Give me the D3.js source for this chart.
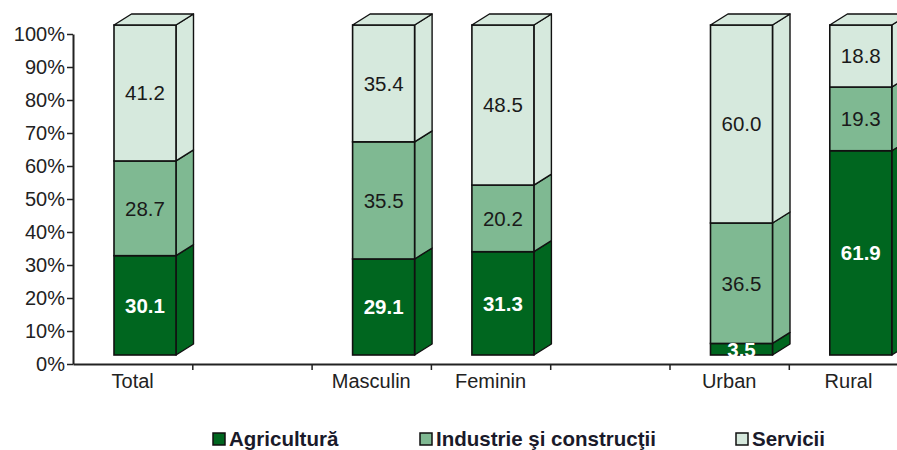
<!DOCTYPE html>
<html>
<head>
<meta charset="utf-8">
<script src="https://cdn.jsdelivr.net/npm/d3@7"></script>
<style>
  html, body { margin: 0; padding: 0; background: #fff; }
  svg { display: block; font-family: "Liberation Sans", Arial, sans-serif; }
</style>
</head>
<body>
<svg id="chart" width="897" height="450"></svg>
<script>
// ---- data ----
const categories = ["Total", "", "Masculin", "Feminin", "", "Urban", "Rural"];
const seriesNames = ["Agricultură", "Industrie şi construcţii", "Servicii"];
const agricultura = [30.1, null, 29.1, 31.3, null, 3.5, 61.9];
const industrie   = [28.7, null, 35.5, 20.2, null, 36.5, 19.3];
const servicii    = [41.2, null, 35.4, 48.5, null, 60.0, 18.8];
const yTicks = [0, 10, 20, 30, 40, 50, 60, 70, 80, 90, 100];

const colors = ["#00661f", "#7fb992", "#d6e9dd"];
const labelColors = ["#ffffff", "#1a1a1a", "#1a1a1a"];

// ---- layout ----
const svg = d3.select("#chart");
const x0 = 73, step = 119.3;
const x = d3.scaleBand().domain(d3.range(categories.length))
  .range([x0, x0 + step * categories.length]).padding(0);
const y = d3.scaleLinear().domain([0, 100]).range([364, 34]);
const barOffsetX = 41, barW = 62, lift = 9;
const dx = 17.5, dy = -11;

// ---- bars ----
const series = [agricultura, industrie, servicii];
const gBars = svg.append("g");
categories.forEach((c, i) => {
  if (agricultura[i] == null) return;
  const bx = x(i) + barOffsetX;
  let cum = 0;
  series.forEach((s, k) => {
    const v = s[i];
    const yb = y(cum) - lift, yt = y(cum + v) - lift;
    cum += v;
    const g = gBars.append("g");
    g.append("polygon")
      .attr("points", [[bx + barW, yb], [bx + barW + dx, yb + dy], [bx + barW + dx, yt + dy], [bx + barW, yt]].join(" "))
      .attr("fill", colors[k]).attr("stroke", "#111").attr("stroke-width", 1.4).attr("stroke-linejoin", "round");
    g.append("rect").attr("x", bx).attr("y", yt).attr("width", barW).attr("height", yb - yt)
      .attr("fill", colors[k]).attr("stroke", "#111").attr("stroke-width", 1.6);
    if (k === series.length - 1) {
      g.append("polygon")
        .attr("points", [[bx, yt], [bx + dx, yt + dy], [bx + barW + dx, yt + dy], [bx + barW, yt]].join(" "))
        .attr("fill", colors[k]).attr("stroke", "#111").attr("stroke-width", 1.4).attr("stroke-linejoin", "round");
    }
  });
  cum = 0;
  series.forEach((s, k) => {
    const v = s[i];
    const ym = (y(cum) + y(cum + v)) / 2 - lift;
    cum += v;
    gBars.append("text").attr("x", bx + barW / 2).attr("y", ym).attr("dy", "0.36em")
      .attr("text-anchor", "middle").attr("font-size", 20.5).attr("fill", labelColors[k])
      .attr("font-weight", k === 0 ? "bold" : "normal")
      .text(v.toFixed(1));
  });
});

// ---- axes ----
const yAxis = svg.append("g").attr("transform", `translate(${x0},0)`)
  .call(d3.axisLeft(y).tickValues(yTicks).tickFormat(d => d + "%").tickSize(6).tickSizeOuter(0));
yAxis.select(".domain").attr("stroke", "#222").attr("stroke-width", 2);
yAxis.selectAll(".tick line").attr("stroke", "#222").attr("stroke-width", 1.5);
yAxis.selectAll(".tick text").attr("font-size", 20).attr("fill", "#222").attr("x", -8)
  .attr("font-family", "Liberation Sans, Arial, sans-serif");

const xb = d3.scaleLinear().domain([0, categories.length]).range(x.range());
const xAxisTicks = svg.append("g").attr("transform", `translate(0,${y(0)})`)
  .call(d3.axisBottom(xb).tickValues(d3.range(1, categories.length)).tickFormat("").tickSize(6).tickSizeOuter(0));
xAxisTicks.select(".domain").attr("stroke", "#222").attr("stroke-width", 2);
xAxisTicks.selectAll(".tick line").attr("stroke", "#222").attr("stroke-width", 1.5);

const xAxis = svg.append("g").attr("transform", `translate(0,${y(0)})`)
  .call(d3.axisBottom(x).tickFormat(i => categories[i]).tickSize(0).tickPadding(10));
xAxis.select(".domain").remove();
xAxis.selectAll(".tick text").attr("font-size", 20).attr("fill", "#222")
  .attr("font-family", "Liberation Sans, Arial, sans-serif");

// ---- legend ----
const legendX = [213, 420, 736];
const legend = svg.append("g");
seriesNames.forEach((n, k) => {
  legend.append("rect").attr("x", legendX[k]).attr("y", 433).attr("width", 12).attr("height", 12)
    .attr("fill", colors[k]).attr("stroke", "#111").attr("stroke-width", 1.5);
  legend.append("text").attr("x", legendX[k] + 16).attr("y", 446)
    .attr("font-size", 20.5).attr("font-weight", "bold").attr("fill", "#1a1a2a").text(n);
});
</script>
</body>
</html>
